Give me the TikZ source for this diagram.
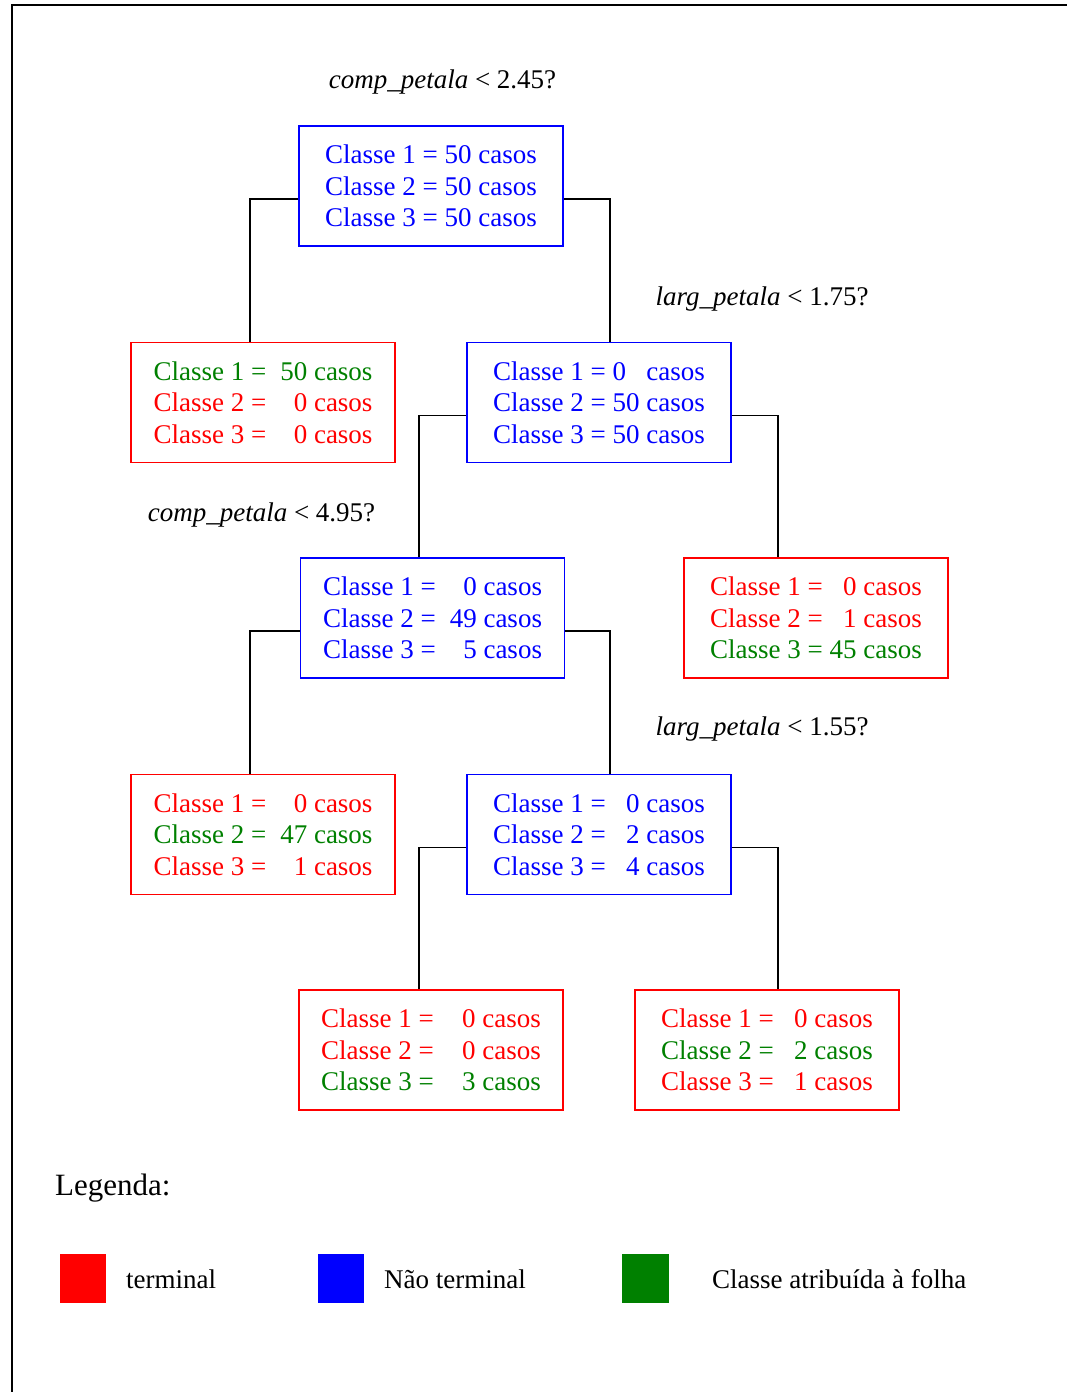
\documentclass[tikz,border=0pt]{standalone}
\usepackage{fontspec}
\setmainfont{Liberation Serif}
\usetikzlibrary{calc}
\definecolor{fgreen}{RGB}{0,128,0}
\definecolor{fred}{RGB}{255,0,0}
\definecolor{fblue}{RGB}{0,0,255}
% row: colour, class, number, field width, alignment
\newcommand\rw[5]{\textcolor{#1}{Classe #2 =\makebox[#4][#5]{#3} casos}}
\tikzset{
  box/.style={draw=#1, line width=1.6pt, rectangle, minimum width=264pt, minimum height=120pt,
    inner sep=0pt, align=center, font=\fontsize{27}{31.5}\selectfont},
  link/.style={draw=black, line width=1.6pt},
  cond/.style={font=\fontsize{27}{31}\selectfont, inner sep=0pt},
  legsq/.style={fill=#1, draw=none},
  legtxt/.style={font=\fontsize{27}{31}\selectfont, inner sep=0pt, anchor=west}
}
\begin{document}
\begin{tikzpicture}[x=1pt,y=-1pt]
\useasboundingbox (0,0) rectangle (1067,1392);
\draw[line width=2pt] (1067,5) -- (12,5) -- (12,1392);

\node[box=fblue] (root) at (431,186) {%
  \rw{fblue}{1}{\ 50}{1.25em}{r}\\\rw{fblue}{2}{\ 50}{1.25em}{r}\\\rw{fblue}{3}{\ 50}{1.25em}{r}};
\node[box=fred] (n1) at (263,402.5) {%
  \rw{fgreen}{1}{50}{1.52em}{r}\\\rw{fred}{2}{0}{1.52em}{r}\\\rw{fred}{3}{0}{1.52em}{r}};
\node[box=fblue] (b1) at (599,402.5) {%
  \rw{fblue}{1}{\ 0}{1.25em}{l}\\\rw{fblue}{2}{\ 50}{1.25em}{l}\\\rw{fblue}{3}{\ 50}{1.25em}{l}};
\node[box=fblue] (b2) at (432.5,618) {%
  \rw{fblue}{1}{0}{1.52em}{r}\\\rw{fblue}{2}{49}{1.52em}{r}\\\rw{fblue}{3}{5}{1.52em}{r}};
\node[box=fred] (n2) at (816,618) {%
  \rw{fred}{1}{0}{1.25em}{r}\\\rw{fred}{2}{1}{1.25em}{r}\\\rw{fgreen}{3}{45}{1.25em}{r}};
\node[box=fred] (n3) at (263,834.5) {%
  \rw{fred}{1}{0}{1.52em}{r}\\\rw{fgreen}{2}{47}{1.52em}{r}\\\rw{fred}{3}{1}{1.52em}{r}};
\node[box=fblue] (b3) at (599,834.5) {%
  \rw{fblue}{1}{0}{1.25em}{r}\\\rw{fblue}{2}{2}{1.25em}{r}\\\rw{fblue}{3}{4}{1.25em}{r}};
\node[box=fred] (n4) at (431,1050) {%
  \rw{fred}{1}{0}{1.55em}{r}\\\rw{fred}{2}{0}{1.55em}{r}\\\rw{fgreen}{3}{3}{1.55em}{r}};
\node[box=fred] (n5) at (767,1050) {%
  \rw{fred}{1}{0}{1.25em}{r}\\\rw{fgreen}{2}{2}{1.25em}{r}\\\rw{fred}{3}{1}{1.25em}{r}};

\draw[link] ([yshift=-13pt]root.west) -| ([xshift=-13pt]n1.north);
\draw[link] ([yshift=-13pt]root.east) -| ([xshift=11pt]b1.north);
\draw[link] ([yshift=-13pt]b1.west) -| ([xshift=-13.5pt]b2.north);
\draw[link] ([yshift=-13pt]b1.east) -| ([xshift=-38pt]n2.north);
\draw[link] ([yshift=-13pt]b2.west) -| ([xshift=-13pt]n3.north);
\draw[link] ([yshift=-13pt]b2.east) -| ([xshift=11pt]b3.north);
\draw[link] ([yshift=-13pt]b3.west) -| ([xshift=-12pt]n4.north);
\draw[link] ([yshift=-13pt]b3.east) -| ([xshift=11pt]n5.north);

\node[cond] (c1) at (442.5,82) {\textit{comp\_petala} < 2.45?};
\node[cond] (c2) at (762,299) {\textit{larg\_petala} < 1.75?};
\node[cond] (c3) at (261.5,515) {\textit{comp\_petala} < 4.95?};
\node[cond] (c4) at (762,729) {\textit{larg\_petala} < 1.55?};

\node[inner sep=0pt, anchor=west, font=\fontsize{31}{35}\selectfont] (leg) at (55,1188) {Legenda:};
\fill[legsq=fred] (60,1254) rectangle (106,1303);
\fill[legsq=fblue] (318,1254) rectangle (364,1303);
\fill[legsq=fgreen] (622,1254) rectangle (669,1303);
\node[legtxt] (t1) at (126,1279) {terminal};
\node[legtxt] (t2) at (384,1279) {Não terminal};
\node[legtxt] (t3) at (712,1279) {Classe atribuída à folha};
\end{tikzpicture}
\end{document}
